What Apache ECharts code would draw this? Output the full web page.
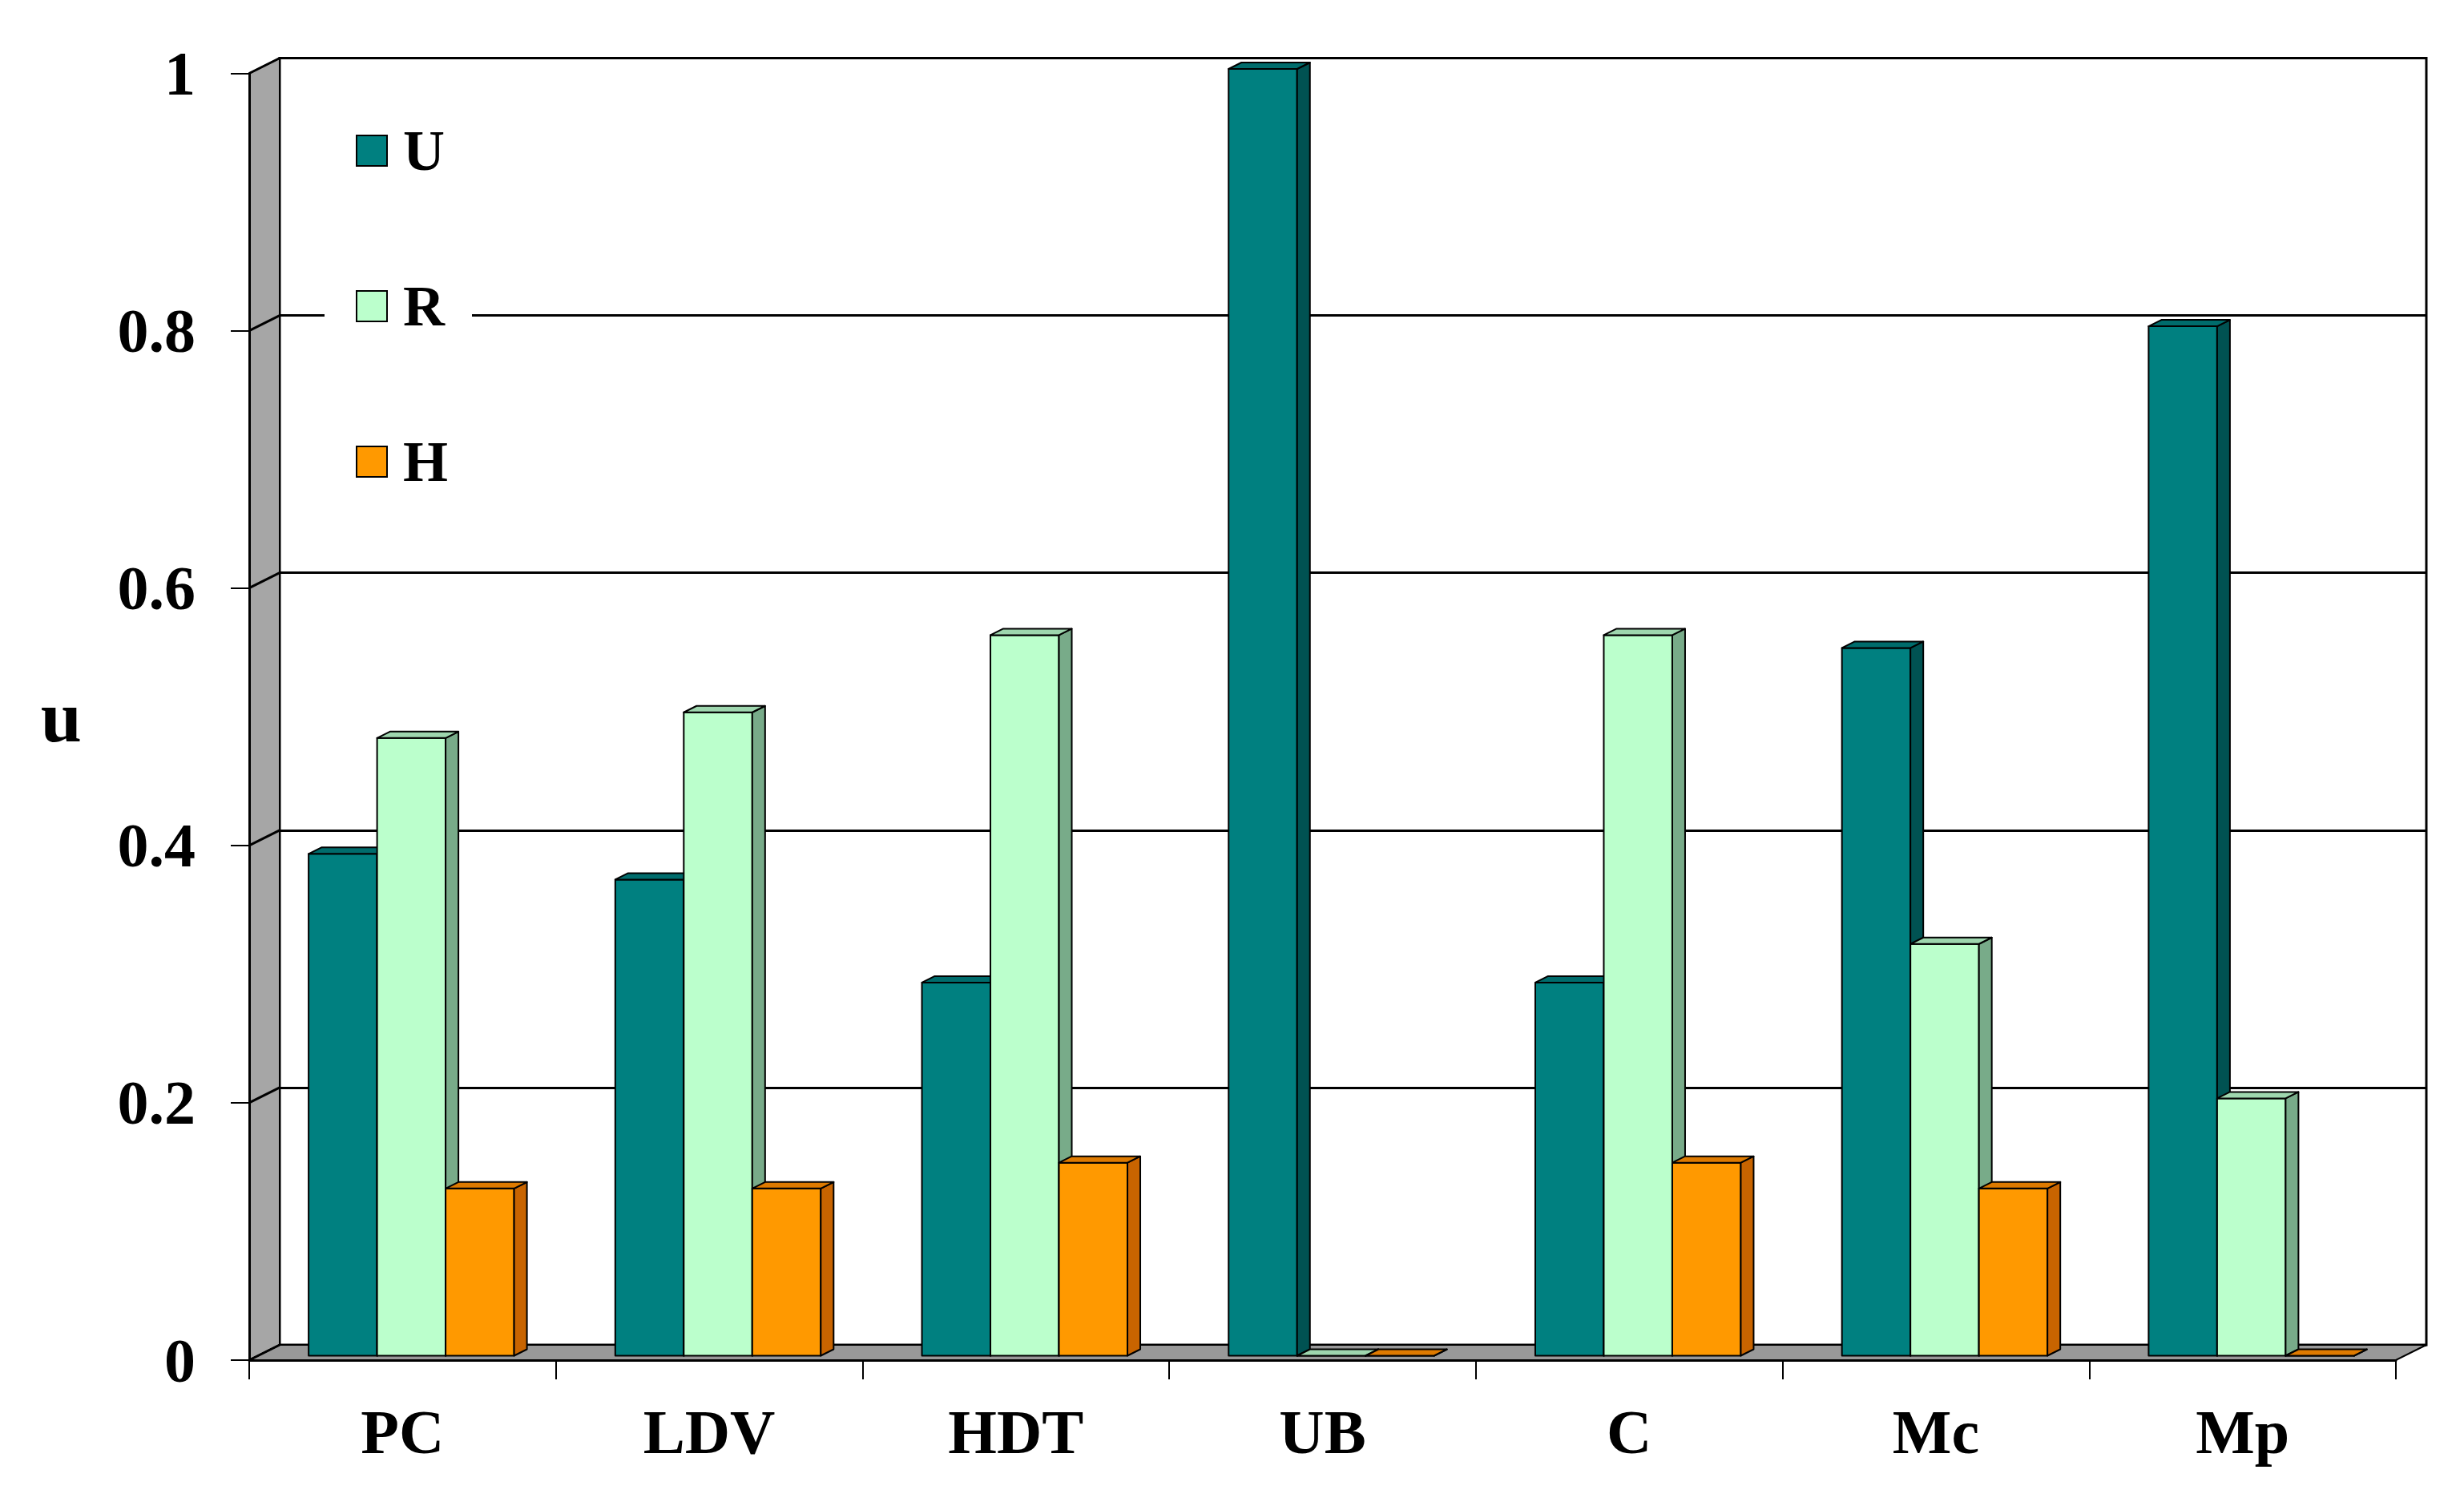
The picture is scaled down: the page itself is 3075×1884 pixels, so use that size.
<!DOCTYPE html>
<html>
<head>
<meta charset="utf-8">
<script src="https://cdn.jsdelivr.net/npm/echarts@6/dist/echarts.min.js"></script>
<style>html,body{margin:0;padding:0;background:#fff}#main{width:3075px;height:1884px}</style>
</head>
<body>
<div id="main"></div>
<script>
const categories = ['PC', 'LDV', 'HDT', 'UB', 'C', 'Mc', 'Mp'];
const seriesNames = ['U', 'R', 'H'];
const uValues = [0.39, 0.37, 0.29, 1.00, 0.29, 0.55, 0.80];
const rValues = [0.48, 0.50, 0.56, 0.00, 0.56, 0.32, 0.20];
const hValues = [0.13, 0.13, 0.15, 0.00, 0.15, 0.13, 0.00];
const yTicks = [0, 0.2, 0.4, 0.6, 0.8, 1];
const yAxisName = 'u';

const FONT = "'Liberation Serif', 'Times New Roman', serif";
const WALL_DX = 38, WALL_DY = -19;   // depth of the 3D box
const BAR_DX = 16, BAR_DY = -8;      // depth of each bar
const SHIFT_X = (WALL_DX - BAR_DX) / 2, SHIFT_Y = (WALL_DY - BAR_DY) / 2;

const palette = [
  { front: '#008080', side: '#005252', top: '#006c6c' },
  { front: '#bbffcc', side: '#78ab89', top: '#9ed6ae' },
  { front: '#ff9900', side: '#c86400', top: '#de7a00' }
];

function barRenderer(k) {
  const c = palette[k];
  return function (params, api) {
    const ci = api.value(0), v = api.value(1);
    const base = api.coord([ci, 0]);
    const top = api.coord([ci, v]);
    const cw = api.size([1, 0])[0];
    const bw = cw * 0.2234;
    const x0 = base[0] - 1.5 * bw + k * bw + SHIFT_X;
    const x1 = x0 + bw;
    const yb = base[1] + SHIFT_Y;
    const yt = top[1] + SHIFT_Y;
    const stroke = { stroke: '#000', lineWidth: 2, lineJoin: 'round' };
    return {
      type: 'group',
      children: [
        { type: 'rect', shape: { x: x0, y: yt, width: bw, height: yb - yt },
          style: Object.assign({ fill: c.front }, stroke) },
        { type: 'polygon', shape: { points: [[x1, yt], [x1 + BAR_DX, yt + BAR_DY], [x1 + BAR_DX, yb + BAR_DY], [x1, yb]] },
          style: Object.assign({ fill: c.side }, stroke) },
        { type: 'polygon', shape: { points: [[x0, yt], [x1, yt], [x1 + BAR_DX, yt + BAR_DY], [x0 + BAR_DX, yt + BAR_DY]] },
          style: Object.assign({ fill: c.top }, stroke) }
      ]
    };
  };
}

function frameRenderer(params, api) {
  const cs = params.coordSys;
  const L = cs.x, R = cs.x + cs.width, T = cs.y, B = cs.y + cs.height;
  return {
    type: 'group',
    children: [
      { type: 'polygon', shape: { points: [[L, B], [L, T], [L + WALL_DX, T + WALL_DY], [L + WALL_DX, B + WALL_DY]] },
        style: { fill: '#a6a6a6', stroke: '#000', lineWidth: 2 } },
      { type: 'polygon', shape: { points: [[L, B], [R, B], [R + WALL_DX, B + WALL_DY], [L + WALL_DX, B + WALL_DY]] },
        style: { fill: '#999999', stroke: '#000', lineWidth: 2 } }
    ]
  };
}

function wallLineRenderer(params, api) {
  const p = api.coord([0, api.value(0)]);
  const cs = params.coordSys;
  const L = cs.x;
  return {
    type: 'line',
    shape: { x1: L, y1: p[1], x2: L + WALL_DX, y2: p[1] + WALL_DY },
    style: { stroke: '#000', lineWidth: 3 }
  };
}

const chart = echarts.init(document.getElementById('main'), null, { renderer: 'svg' });
const gridFront = { left: 311, right: 85, top: 91.5, bottom: 187 };
const gridBack = { left: 311 + WALL_DX, right: 85 - WALL_DX, top: 91.5 + WALL_DY, bottom: 187 - WALL_DY };

const valueSets = [uValues, rValues, hValues];
const barSeries = seriesNames.map((name, k) => ({
  name: name,
  type: 'custom',
  xAxisIndex: 0, yAxisIndex: 0,
  z: 3 + k,
  itemStyle: { color: palette[k].front },
  renderItem: barRenderer(k),
  encode: { x: 0, y: 1 },
  data: valueSets[k].map((v, i) => [i, v])
}));

chart.setOption({
  backgroundColor: '#fff',
  animation: false,
  grid: [
    Object.assign({ show: false }, gridFront),
    Object.assign({ show: true, backgroundColor: '#fff', borderColor: '#000', borderWidth: 3 }, gridBack)
  ],
  xAxis: [
    { type: 'category', gridIndex: 0, data: categories, z: 6,
      axisLine: { show: true, lineStyle: { color: '#000', width: 3 } },
      axisTick: { show: true, length: 24, lineStyle: { color: '#000', width: 2 } },
      axisLabel: { margin: 50, fontFamily: FONT, fontWeight: 'bold', fontSize: 78, color: '#000' },
      splitLine: { show: false } },
    { type: 'category', gridIndex: 1, data: categories, show: false }
  ],
  yAxis: [
    { type: 'value', gridIndex: 0, min: 0, max: 1, interval: 0.2, z: 6,
      name: yAxisName, nameLocation: 'middle', nameRotate: 0, nameGap: 209,
      nameTextStyle: { fontFamily: FONT, fontWeight: 'bold', fontSize: 92, color: '#000', padding: [0, 0, 80, 0] },
      axisLine: { show: true, lineStyle: { color: '#000', width: 3 } },
      axisTick: { show: true, length: 23, lineStyle: { color: '#000', width: 2 } },
      axisLabel: { margin: 67, fontFamily: FONT, fontWeight: 'bold', fontSize: 78, color: '#000',
        formatter: v => String(Math.round(v * 10) / 10) },
      splitLine: { show: false } },
    { type: 'value', gridIndex: 1, min: 0, max: 1, interval: 0.2,
      axisLine: { show: false }, axisTick: { show: false }, axisLabel: { show: false },
      splitLine: { show: true, lineStyle: { color: '#000', width: 3 } } }
  ],
  legend: {
    orient: 'vertical', left: 405, top: 132,
    backgroundColor: '#fff', padding: [20, 30, 20, 39],
    itemWidth: 38, itemHeight: 38, itemGap: 122,
    textStyle: { fontFamily: FONT, fontWeight: 'bold', fontSize: 72, color: '#000', lineHeight: 72, padding: [0, 0, 0, 15] },
    data: seriesNames.map((n, k) => ({ name: n, icon: 'rect',
      itemStyle: { color: palette[k].front, borderColor: '#000', borderWidth: 2 } }))
  },
  series: [
    { type: 'custom', name: 'frame', xAxisIndex: 0, yAxisIndex: 0, z: 1, silent: true,
      renderItem: frameRenderer, data: [[0, 0]] },
    { type: 'custom', name: 'wallLines', xAxisIndex: 0, yAxisIndex: 0, z: 2, silent: true,
      renderItem: wallLineRenderer, encode: { y: 0 }, data: yTicks.map(t => [t]) }
  ].concat(barSeries)
});
</script>
</body>
</html>
